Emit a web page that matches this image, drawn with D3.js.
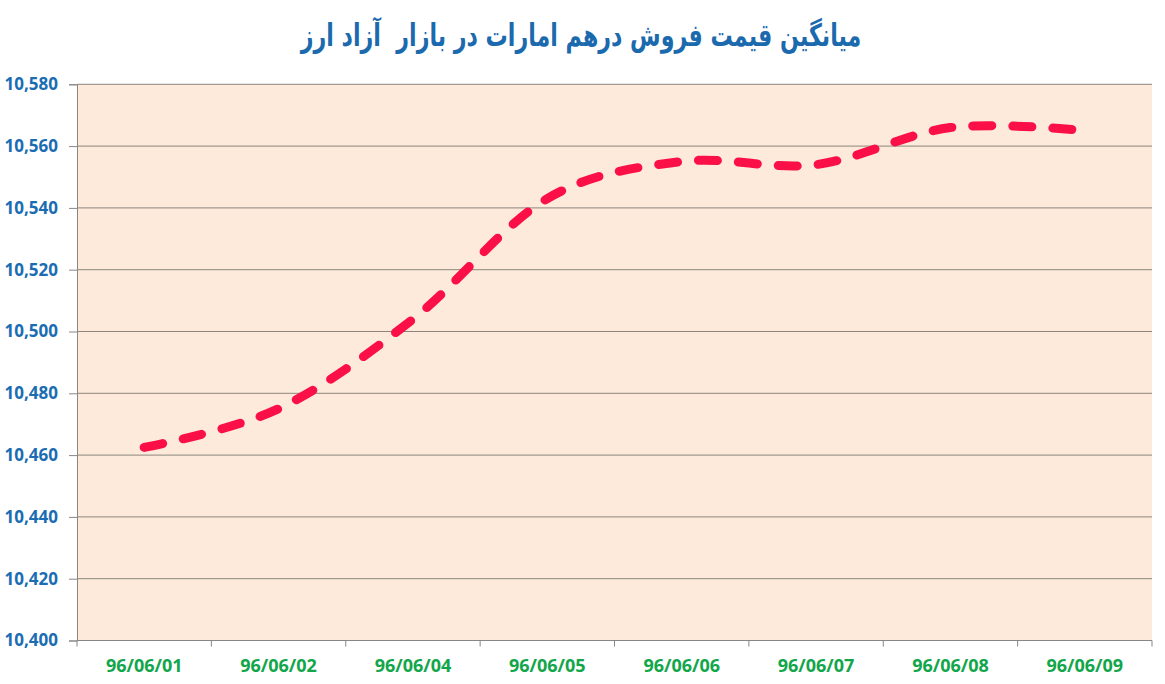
<!DOCTYPE html>
<html>
<head>
<meta charset="utf-8">
<script src="https://cdn.jsdelivr.net/npm/d3@7/dist/d3.min.js"></script>
<style>
  html, body { margin: 0; padding: 0; background: #ffffff; }
  svg { display: block; }
</style>
</head>
<body>
<svg id="chart" width="1165" height="684"></svg>
<script>
const titleText = "میانگین قیمت فروش درهم امارات در بازار  آزاد ارز";
const categories = ["96/06/01", "96/06/02", "96/06/04", "96/06/05", "96/06/06", "96/06/07", "96/06/08", "96/06/09"];
const prices = [10462.5, 10475, 10504, 10543, 10555, 10554, 10566, 10565];
const yTicks = [10400, 10420, 10440, 10460, 10480, 10500, 10520, 10540, 10560, 10580];

(function () {
const svg = d3.select("#chart");
const pLeft = 77, pRight = 1152, pTop = 84.3, pBottom = 640.5;

const x = d3.scaleBand().domain(categories).range([pLeft, pRight]).padding(0);
const y = d3.scaleLinear().domain([10400, 10580]).range([pBottom, pTop]);

// plot background
svg.append("rect")
  .attr("x", pLeft).attr("y", pTop)
  .attr("width", pRight - pLeft).attr("height", pBottom - pTop)
  .attr("fill", "#FDEADA");

// gridlines
svg.append("g").selectAll("line").data(yTicks.filter(v => v !== 10400)).join("line")
  .attr("x1", pLeft).attr("x2", pRight)
  .attr("y1", d => y(d)).attr("y2", d => y(d))
  .attr("stroke", "#8C857D").attr("stroke-width", 1);

// y axis
const yAxis = svg.append("g").attr("transform", `translate(${pLeft},0)`)
  .call(d3.axisLeft(y).tickValues(yTicks).tickSize(8).tickPadding(11)
    .tickFormat(d3.format(",")));
yAxis.select(".domain").attr("stroke", "#868686");
yAxis.selectAll(".tick line").attr("stroke", "#868686");
yAxis.selectAll(".tick text")
  .attr("fill", "#1A6DB3")
  .style("font-family", "'Open Sans', sans-serif")
  .style("font-weight", "700")
  .style("font-size", "17px");

// x axis line
svg.append("line")
  .attr("x1", pLeft).attr("x2", pRight)
  .attr("y1", pBottom).attr("y2", pBottom)
  .attr("stroke", "#868686").attr("stroke-width", 1);

// x ticks at band boundaries
const boundaries = categories.map(c => x(c)).concat([x(categories[categories.length - 1]) + x.bandwidth()]);
svg.append("g").selectAll("line").data(boundaries).join("line")
  .attr("x1", d => d).attr("x2", d => d)
  .attr("y1", pBottom).attr("y2", pBottom + 6)
  .attr("stroke", "#868686").attr("stroke-width", 1);

// x labels
svg.append("g").selectAll("text").data(categories).join("text")
  .attr("x", d => x(d) + x.bandwidth() / 2)
  .attr("y", 672)
  .attr("text-anchor", "middle")
  .attr("fill", "#12A64A")
  .style("font-family", "'Open Sans', sans-serif")
  .style("font-weight", "700")
  .style("font-size", "18px")
  .text(d => d);

// line
const line = d3.line()
  .x((d, i) => x(categories[i]) + x.bandwidth() / 2)
  .y(d => y(d))
  .curve(d3.curveCatmullRom.alpha(0));

svg.append("path")
  .datum(prices)
  .attr("d", line)
  .attr("fill", "none")
  .attr("stroke", "#FA0F46")
  .attr("stroke-width", 9)
  .attr("stroke-linecap", "round")
  .attr("stroke-dasharray", "19 21");

// title
const tg = svg.append("g");
const tt = tg.append("text")
  .attr("x", 0)
  .attr("y", 0)
  .attr("text-anchor", "middle")
  .attr("direction", "rtl")
  .attr("fill", "#1B6AAE")
  .style("font-family", "'DejaVu Sans', sans-serif")
  .style("font-weight", "700")
  .style("font-size", "31px")
  .style("white-space", "pre")
  .text(titleText);
const bw = tt.node().getBBox().width || 562;
tg.attr("transform", `translate(581,46) scale(${562 / bw},1)`);
})();
</script>
</body>
</html>
